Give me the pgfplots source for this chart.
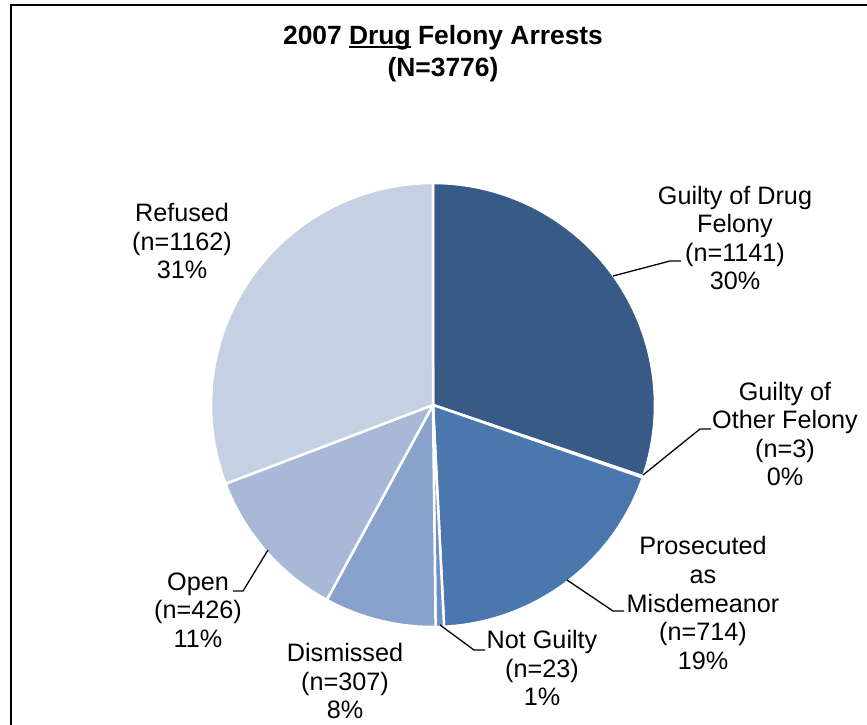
\documentclass[border=0pt]{standalone}
\usepackage{pgfplots}
\pgfplotsset{compat=1.18}
\usepackage{fontspec}
\setmainfont{Liberation Sans}

\definecolor{sDrug}{HTML}{375A87}
\definecolor{sOther}{HTML}{416A9E}
\definecolor{sMisd}{HTML}{4A78AE}
\definecolor{sNotG}{HTML}{6C8FC6}
\definecolor{sDism}{HTML}{88A2CC}
\definecolor{sOpen}{HTML}{A9B8D6}
\definecolor{sRef}{HTML}{C5D0E3}

\tikzset{lbl/.style={font=\fontsize{25.3}{28.7}\selectfont, align=center, inner sep=0pt},
         lead/.style={line width=1.3bp}}
% underline just below the baseline, as in the original
\newcommand\ul[1]{\setbox0\hbox{#1}\rlap{\rule[-3.2bp]{\wd0}{2.4bp}}#1}

% counts, clockwise from 12 o'clock
\def\nDrug{1141}
\def\nOther{3}
\def\nMisd{714}
\def\nNotG{23}
\def\nDism{307}
\def\nOpen{426}
\def\nRef{1162}

\pgfmathsetmacro\tot{\nDrug+\nOther+\nMisd+\nNotG+\nDism+\nOpen+\nRef}
\pgfmathsetmacro\aA{90}
\pgfmathsetmacro\aB{\aA-360*(\nDrug/\tot)}
\pgfmathsetmacro\aC{\aB-360*(\nOther/\tot)}
\pgfmathsetmacro\aD{\aC-360*(\nMisd/\tot)}
\pgfmathsetmacro\aE{\aD-360*(\nNotG/\tot)}
\pgfmathsetmacro\aF{\aE-360*(\nDism/\tot)}
\pgfmathsetmacro\aG{\aF-360*(\nOpen/\tot)}
\pgfmathsetmacro\aH{\aG-360*(\nRef/\tot)}
\def\R{222bp}
\def\slice#1#2#3{\fill[#1,draw=white,line width=2.5bp,line join=round]
  (axis cs:433,405) -- ++(#2:\R) arc[start angle=#2,end angle=#3,radius=\R] -- cycle;}

\begin{document}
\begin{tikzpicture}
\begin{axis}[
    name=pie,
    width=867bp, height=725bp, scale only axis,
    xmin=0, xmax=867, ymin=0, ymax=725, y dir=reverse,
    hide axis, clip=false,
  ]
  % frame (left and top edges)
  \draw[line width=2.8bp] (axis cs:11,725) -- (axis cs:11,5) -- (axis cs:867,5);

  \slice{sDrug}{\aA}{\aB}
  \slice{sOther}{\aB}{\aC}
  \slice{sMisd}{\aC}{\aD}
  \slice{sNotG}{\aD}{\aE}
  \slice{sDism}{\aE}{\aF}
  \slice{sOpen}{\aF}{\aG}
  \slice{sRef}{\aG}{\aH}

  \node[lbl, font=\bfseries\fontsize{26.5}{32}\selectfont] at (axis cs:443,54)
    {2007 \ul{Drug} Felony Arrests\\(N=3776)};

  % leader lines
  \draw[lead] (axis cs:613,276) -- (axis cs:670,261) -- (axis cs:681,261);
  \draw[lead] (axis cs:643,475) -- (axis cs:700,429) -- (axis cs:711,429);
  \draw[lead] (axis cs:567,580) -- (axis cs:613,611) -- (axis cs:624,611);
  \draw[lead] (axis cs:440,625) -- (axis cs:474,650) -- (axis cs:485,650);
  \draw[lead] (axis cs:268,550) -- (axis cs:243,591) -- (axis cs:233,591);

  % labels
  \node[lbl] at (axis cs:735,238) {Guilty of Drug\\Felony\\(n=1141)\\30\%};
  \node[lbl] at (axis cs:785,434) {Guilty of\\Other Felony\\(n=3)\\0\%};
  \node[lbl] at (axis cs:703,603) {Prosecuted\\as\\Misdemeanor\\(n=714)\\19\%};
  \node[lbl] at (axis cs:542,668) {Not Guilty\\(n=23)\\1\%};
  \node[lbl] at (axis cs:345,681) {Dismissed\\(n=307)\\8\%};
  \node[lbl] at (axis cs:198,610) {Open\\(n=426)\\11\%};
  \node[lbl] at (axis cs:182,241) {Refused\\(n=1162)\\31\%};
\end{axis}
\pgfresetboundingbox
\useasboundingbox (pie.south west) rectangle (pie.north east);
\end{tikzpicture}
\end{document}
